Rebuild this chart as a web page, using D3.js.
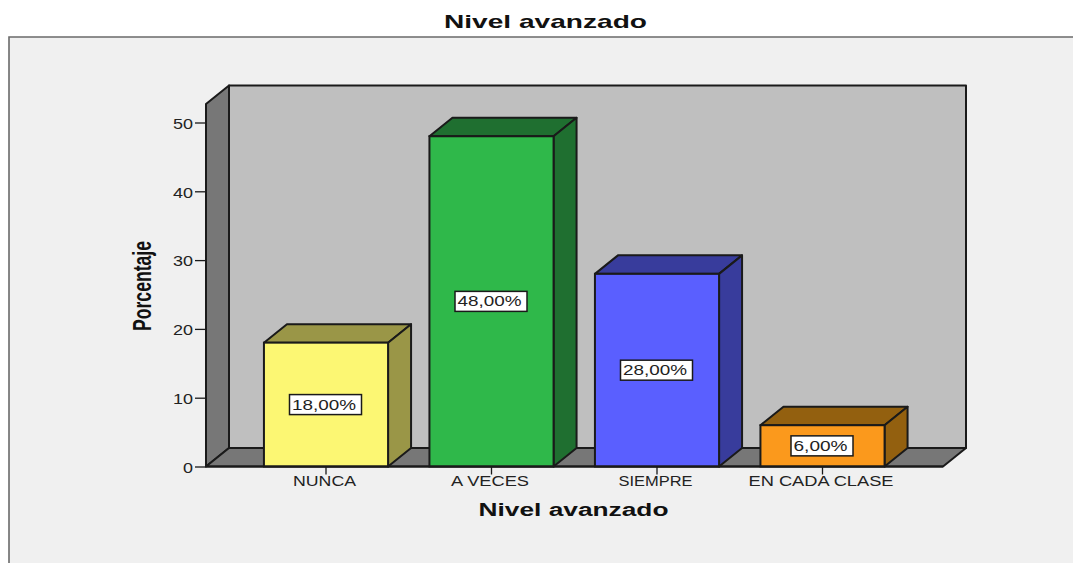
<!DOCTYPE html>
<html><head><meta charset="utf-8">
<script src="https://cdn.jsdelivr.net/npm/d3@7"></script>
<style>html,body{margin:0;padding:0;background:#fff}svg{display:block}text{font-family:"Liberation Sans",Arial,sans-serif}</style>
</head><body><div id="chart"></div>
<script>
const categories = ["NUNCA","A VECES","SIEMPRE","EN CADA CLASE"];
const values = [18,48,28,6];
const valueLabels = ["18,00%","48,00%","28,00%","6,00%"];
const frontColors = ["#fcf773","#2fb84a","#5a5fff","#fb991c"];
const sideColors = ["#9a9647","#1f6f30","#383c9c","#93600f"];
const yTicks = [0,10,20,30,40,50];
const titleText = "Nivel avanzado";
const xTitle = "Nivel avanzado";
const yTitle = "Porcentaje";

const W=1073,H=563, ink="#1a1a1a";
const svg=d3.select("#chart").append("svg").attr("width",W).attr("height",H);
const yScale=d3.scaleLinear().domain([0,50]).range([466.5,122.5]);
const xScale=d3.scaleBand().domain(categories).range([243.25,905.25]).paddingInner(.25).paddingOuter(.125);
const dx=23, dy=-18.5, wallL=206, wallR=943, wallT=104;
const stretched=(s,a)=>s.attr("lengthAdjust","spacingAndGlyphs").attr("textLength",a);
const poly=(pts,fill,sw=2)=>svg.append("polygon").attr("points",pts.map(p=>p.join(",")).join(" ")).attr("fill",fill).attr("stroke",ink).attr("stroke-width",sw).attr("stroke-linejoin","round");

// panel
svg.append("rect").attr("x",9).attr("y",37).attr("width",W-9).attr("height",H-37).attr("fill","#f0f0f0");
svg.append("path").attr("d",`M9,${H}V37H${W}`).attr("fill","none").attr("stroke","#6a6a6a").attr("stroke-width",1.6);

// title
stretched(svg.append("text").attr("x",545.5).attr("y",28).attr("text-anchor","middle").attr("font-size",19).attr("font-weight","bold").attr("fill","#111").text(titleText),203);

// walls and floor
const y0=yScale(0);
poly([[wallL+dx,wallT+dy],[wallR+dx,wallT+dy],[wallR+dx,y0+dy],[wallL+dx,y0+dy]],"#bfbfbf");
poly([[wallL,wallT],[wallL+dx,wallT+dy],[wallL+dx,y0+dy],[wallL,y0]],"#777777");
poly([[wallL,y0],[wallL+dx,y0+dy],[wallR+dx,y0+dy],[wallR,y0]],"#777777");

// y axis
const yAxis=d3.axisLeft(yScale).tickValues(yTicks).tickSize(11).tickPadding(2).tickFormat(d3.format("d"));
const gy=svg.append("g").attr("transform",`translate(${wallL},0)`).call(yAxis);
gy.select(".domain").remove();
gy.selectAll("line").attr("stroke",ink).attr("stroke-width",1.3);
gy.selectAll("text").attr("font-size",14).attr("fill","#222").attr("dy","0.42em").each(function(d){stretched(d3.select(this),d===0?10:20)});

// bars
values.forEach((v,i)=>{
  const c=categories[i], bx=xScale(c), bw=xScale.bandwidth(), by=yScale(v);
  poly([[bx,by],[bx+dx,by+dy],[bx+bw+dx,by+dy],[bx+bw,by]],sideColors[i]);
  poly([[bx+bw,by],[bx+bw+dx,by+dy],[bx+bw+dx,y0+dy],[bx+bw,y0]],sideColors[i]);
  svg.append("rect").attr("x",bx).attr("y",by).attr("width",bw).attr("height",y0-by).attr("fill",frontColors[i]).attr("stroke",ink).attr("stroke-width",2);
  const cx=bx+bw/2-0.5, cy=(by+y0)/2, lw=v<10?62:72;
  svg.append("rect").attr("x",cx-lw/2).attr("y",cy-10).attr("width",lw).attr("height",20).attr("fill","#fff").attr("stroke",ink).attr("stroke-width",1.5);
  stretched(svg.append("text").attr("x",cx-1.5).attr("y",cy+5).attr("text-anchor","middle").attr("font-size",14).attr("fill","#222").text(valueLabels[i]),v<10?54:64);
});

// x axis
svg.append("line").attr("x1",wallL).attr("x2",wallR).attr("y1",y0).attr("y2",y0).attr("stroke",ink).attr("stroke-width",2);
const xAxis=d3.axisBottom(xScale).tickSize(8).tickPadding(0);
const gx=svg.append("g").attr("transform",`translate(0,${y0})`).call(xAxis);
gx.select(".domain").remove();
gx.selectAll("line").attr("stroke",ink).attr("stroke-width",1.3);
const xLens={"NUNCA":63,"A VECES":78,"SIEMPRE":74,"EN CADA CLASE":145};
gx.selectAll("text").attr("font-size",14).attr("fill","#222").attr("dy","0.72em").attr("x",-1.5).attr("y",9.5).each(function(d){stretched(d3.select(this),xLens[d])});

// axis titles
stretched(svg.append("text").attr("x",573.5).attr("y",516).attr("text-anchor","middle").attr("font-size",18).attr("font-weight","bold").attr("fill","#111").text(xTitle),190);
stretched(svg.append("text").attr("transform","translate(151,286) rotate(-90)").attr("text-anchor","middle").attr("font-size",25).attr("font-weight","bold").attr("fill","#111").text(yTitle),90);
</script></body></html>
